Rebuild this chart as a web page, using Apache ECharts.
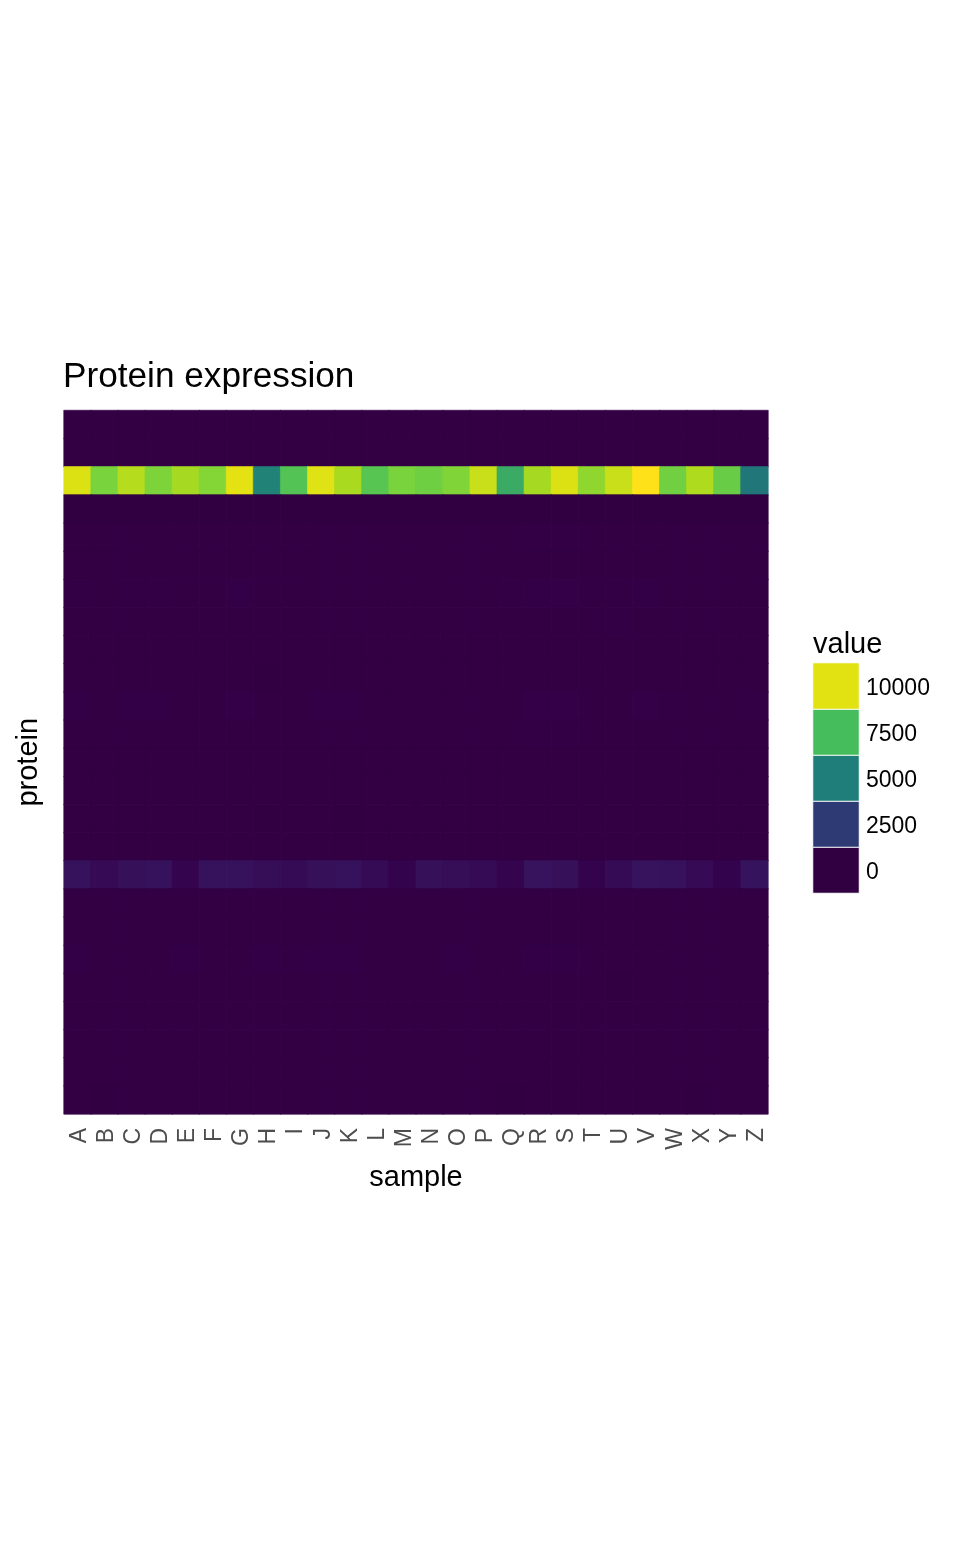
<!DOCTYPE html>
<html><head><meta charset="utf-8">
<script src="https://cdn.jsdelivr.net/npm/echarts@6/dist/echarts.min.js"></script>
<style>html,body{margin:0;padding:0;background:#fff}#c{width:960px;height:1553px}</style>
</head><body><div id="c"></div>
<script>
const samples = "ABCDEFGHIJKLMNOPQRSTUVWXYZ".split("");
const proteins = ["p01","p02","p03","p04","p05","p06","p07","p08","p09","p10","p11","p12","p13","p14","p15","p16","p17","p18","p19","p20","p21","p22","p23","p24","p25"];
const p01 = [20,20,20,20,20,20,20,20,20,20,20,20,20,20,20,20,20,20,20,20,20,20,20,20,20,20];
const p02 = [20,20,20,20,20,20,20,20,20,20,20,20,20,20,20,20,20,20,20,20,20,20,20,20,20,20];
const p03 = [9900,8500,9300,8550,9100,8650,10050,5150,7750,9950,9150,7850,8500,8300,8600,9600,6750,9100,9900,8800,9600,10700,8350,9200,8200,4700];
const p04 = [0,0,0,0,0,0,0,0,0,0,0,0,0,0,0,0,0,0,0,0,0,0,0,0,0,0];
const p05 = [30,30,30,30,30,30,30,30,30,30,30,30,30,30,30,30,40,70,80,30,30,30,30,30,30,30];
const p06 = [20,20,30,30,30,30,30,30,30,30,30,30,30,30,30,30,30,40,40,30,30,30,30,30,30,30];
const p07 = [80,40,60,50,30,30,100,40,30,30,30,30,30,30,30,30,60,110,140,30,50,100,30,30,30,30];
const p08 = [30,30,30,30,30,30,30,30,30,30,30,30,30,30,30,30,30,30,30,30,50,30,30,30,30,30];
const p09 = [20,20,20,20,20,20,20,20,20,20,20,20,20,20,20,20,20,20,20,20,20,20,20,20,20,20];
const p10 = [20,20,20,20,20,20,20,5,20,20,20,20,20,20,20,20,20,20,20,20,20,20,20,20,20,20];
const p11 = [110,40,90,90,30,30,140,40,40,110,110,30,30,30,30,30,30,130,130,30,40,130,60,30,30,70];
const p12 = [30,30,40,40,40,30,40,30,30,30,30,30,30,30,30,30,40,50,50,30,30,30,30,30,30,30];
const p13 = [20,20,20,20,20,20,20,20,20,20,20,20,20,20,20,20,20,20,20,20,20,20,20,20,20,20];
const p14 = [20,20,20,20,20,20,20,20,20,20,20,20,20,20,20,20,20,20,20,20,20,20,20,20,20,20];
const p15 = [20,20,20,20,20,20,20,5,20,20,5,20,20,20,20,20,20,20,20,20,20,20,20,20,20,20];
const p16 = [20,20,20,20,20,20,20,20,20,20,20,20,20,20,20,20,20,20,20,20,20,20,20,20,20,20];
const p17 = [700,450,650,700,300,700,700,550,500,650,700,500,250,650,550,500,300,750,650,250,500,750,700,450,250,800];
const p18 = [30,30,30,30,30,30,30,30,30,30,30,30,30,30,30,30,30,30,30,30,30,30,30,30,30,30];
const p19 = [30,30,30,30,30,30,30,30,30,30,30,30,30,30,30,30,30,30,30,30,30,30,30,30,30,30];
const p20 = [90,40,40,40,110,40,40,90,60,90,90,30,30,30,90,40,30,110,110,30,30,30,30,30,30,30];
const p21 = [30,30,30,30,30,30,30,30,30,30,30,30,30,30,30,30,30,30,30,30,5,30,30,30,30,30];
const p22 = [30,30,30,30,30,30,30,30,30,30,30,30,30,30,30,30,30,30,30,30,30,30,30,30,30,30];
const p23 = [30,30,30,30,30,30,30,30,30,30,30,30,30,30,30,30,30,30,30,30,30,30,30,30,30,30];
const p24 = [30,30,30,30,30,30,30,30,30,30,30,30,30,30,30,30,30,30,30,30,30,30,30,30,30,30];
const p25 = [30,5,30,30,30,30,30,30,30,30,30,30,30,30,30,30,5,30,30,30,30,30,30,5,30,30];
const matrix = [p01,p02,p03,p04,p05,p06,p07,p08,p09,p10,p11,p12,p13,p14,p15,p16,p17,p18,p19,p20,p21,p22,p23,p24,p25];
const legendBreaks = [0,2500,5000,7500,10000];

const colorStops = [[0,"#310041"],[30,"#330044"],[200,"#34014c"],[700,"#37125c"],[2500,"#2d3a74"],[5000,"#1f7e7a"],[7500,"#45bd5c"],[8500,"#78d33c"],[9200,"#aedb1e"],[10000,"#e2e213"],[10700,"#ffe119"]];
function hex(c){return [1,3,5].map(i=>parseInt(c.slice(i,i+2),16));}
const palette=[];
for(let v=0;v<=10700;v+=10){
  let k=0; while(k<colorStops.length-2 && v>colorStops[k+1][0])k++;
  const a=colorStops[k],b=colorStops[k+1],t=(v-a[0])/(b[0]-a[0]),A=hex(a[1]),B=hex(b[1]);
  palette.push("rgb("+A.map((x,i)=>Math.round(x+(B[i]-x)*t)).join(",")+")");
}
const colorOf=v=>palette[Math.round(v/10)];
const cells=[];
matrix.forEach((row,r)=>row.forEach((v,c)=>cells.push({value:[samples[c],proteins[r],v],itemStyle:{borderWidth:0.6,borderColor:colorOf(v)}})));
const font="'Liberation Sans', Arial, sans-serif";
const chart=echarts.init(document.getElementById("c"),null,{renderer:"canvas"});
chart.setOption({
  animation:false,
  backgroundColor:"#fff",
  title:[
    {text:"Protein expression",left:63,top:360,textStyle:{fontFamily:font,fontSize:35.2,fontWeight:"normal",color:"#000"},padding:0},
    {text:"value",left:813,top:630,textStyle:{fontFamily:font,fontSize:29,fontWeight:"normal",color:"#000"},padding:0}
  ],
  grid:[
    {left:64,top:410.5,width:704,height:703.5,containLabel:false},
    {left:813,top:663,width:46,height:230,containLabel:false}
  ],
  xAxis:[
    {type:"category",gridIndex:0,data:samples,name:"sample",nameLocation:"middle",nameGap:49,
     nameTextStyle:{fontFamily:font,fontSize:29,color:"#000"},
     axisLine:{show:false},axisTick:{show:false},splitLine:{show:false},splitArea:{show:false},
     axisLabel:{rotate:90,interval:0,margin:14,formatter:"{t|{value}}",
       rich:{t:{padding:[4,0,0,0],fontFamily:font,fontSize:23,color:"#4d4d4d"}}}},
    {type:"category",gridIndex:1,data:["value"],axisLine:{show:false},axisTick:{show:false},axisLabel:{show:false},splitLine:{show:false}}
  ],
  yAxis:[
    {type:"category",gridIndex:0,data:proteins,inverse:true,name:"protein",nameLocation:"middle",nameGap:21,nameRotate:90,
     nameTextStyle:{fontFamily:font,fontSize:29,color:"#000"},
     axisLine:{show:false},axisTick:{show:false},axisLabel:{show:false},splitLine:{show:false},splitArea:{show:false}},
    {type:"category",gridIndex:1,position:"right",data:legendBreaks.map(String),
     axisLine:{show:false},axisTick:{show:false},splitLine:{show:false},
     axisLabel:{margin:7,align:"left",formatter:"{t|{value}}",
       rich:{t:{padding:[6,0,0,0],fontFamily:font,fontSize:23,color:"#000"}}}}
  ],
  visualMap:{show:false,type:"continuous",min:0,max:10700,seriesIndex:[0,1],inRange:{color:palette}},
  series:[
    {type:"heatmap",xAxisIndex:0,yAxisIndex:0,data:cells,progressive:0,emphasis:{disabled:true}},
    {type:"heatmap",xAxisIndex:1,yAxisIndex:1,data:legendBreaks.map(v=>["value",String(v),v]),
     itemStyle:{borderWidth:1,borderColor:"#fff"},emphasis:{disabled:true}}
  ]
});
</script></body></html>
